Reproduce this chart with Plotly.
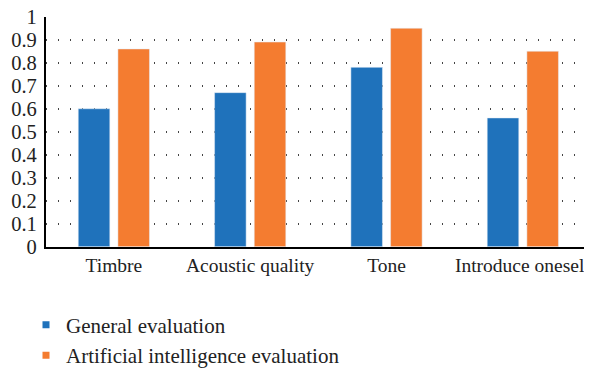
import plotly.graph_objects as go

categories = ["Timbre", "Acoustic quality", "Tone", "Introduce oneself"]
general = [0.60, 0.67, 0.78, 0.56]
ai = [0.86, 0.89, 0.95, 0.85]
series_names = ["General evaluation", "Artificial intelligence evaluation"]
colors = ["#1f72bb", "#f47c30"]
yticks = [0, 0.1, 0.2, 0.3, 0.4, 0.5, 0.6, 0.7, 0.8, 0.9, 1]
ytick_text = ["0", "0.1", "0.2", "0.3", "0.4", "0.5", "0.6", "0.7", "0.8", "0.9", "1"]

FONT = "Liberation Serif"

W, H = 592, 368

fig = go.Figure()
for name, vals, c in zip(series_names, [general, ai], colors):
    fig.add_trace(go.Bar(x=categories, y=vals, name=name, marker_color=c,
                         showlegend=False))
for i, (name, c) in enumerate(zip(series_names, colors)):
    fig.add_trace(go.Scatter(x=[None], y=[None], mode="markers", name=name,
                             legendgroup=f"g{i}",
                             marker=dict(symbol="square", size=7, color=c)))

fig.update_layout(
    width=W, height=H,
    margin=dict(l=0, r=0, t=0, b=0),
    paper_bgcolor="white", plot_bgcolor="white",
    barmode="group", bargap=0.418, bargroupgap=0.205,
    font=dict(family=FONT, color="#222222", size=21),
    legend=dict(orientation="v", x=18 / W, xanchor="left",
                y=1 - 305 / H, yanchor="top",
                font=dict(size=21, family=FONT, color="#222222"), itemwidth=30,
                tracegroupgap=0, bgcolor="rgba(0,0,0,0)"),
)
fig.update_xaxes(domain=[37.7 / W, 583 / W], showline=True, linecolor="black",
                 linewidth=1.5, ticks="", showgrid=False,
                 tickfont=dict(size=19.5, color="#222222"), tickangle=0,
                 ticklabeloverflow="allow", automargin=False)
fig.update_yaxes(domain=[1 - 245.4 / H, 1 - 9 / H], range=[0, 1], tickvals=yticks,
                 ticktext=ytick_text, showline=True, linecolor="black", linewidth=1.5,
                 ticks="", showgrid=True, gridcolor="#444444", gridwidth=1.5,
                 griddash="1px,11px", zeroline=False, ticklabelstandoff=3,
                 ticklabeloverflow="allow",
                 tickfont=dict(size=20.5, color="#222222"), automargin=False)

fig.write_html("out.html")
